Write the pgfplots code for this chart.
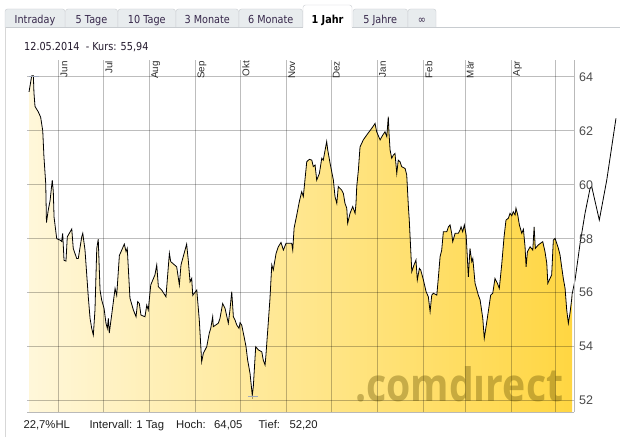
\documentclass[border=0pt]{standalone}
\usepackage{pgfplots}
\pgfplotsset{compat=1.18}
\usepackage{pgfplotstable}
\usepackage{graphicx}
\usepackage{fontspec}
\usetikzlibrary{calc}
\setmainfont{Liberation Sans}
\newfontfamily\tah{DejaVu Sans}[FakeStretch=0.88]
\newfontfamily\wmfont{Open Sans}
\def\tabfont{\tah\fontsize{11}{13}\selectfont}

\definecolor{tabborder}{RGB}{200,204,208}
\definecolor{tabfill}{RGB}{232,236,238}
\definecolor{tabtext}{RGB}{55,40,75}
\definecolor{panelborder}{RGB}{215,215,215}
\definecolor{fillL}{RGB}{255,247,218}
\definecolor{fillR}{RGB}{255,214,66}
\definecolor{tickgray}{RGB}{75,75,75}
\definecolor{wm}{RGB}{100,80,0}
\definecolor{hlmark}{RGB}{160,168,185}

\pgfplotstableread{
d v
0.1 63.44
1.9 64.04
3.0 64.04
3.4 63.4
4.1 62.9
6.3 62.7
7.9 62.5
9.3 62.0
10.1 61.04
11.3 60.05
11.8 58.6
13.0 59.06
14.2 59.4
15.7 60.17
16.4 59.74
16.9 58.8
18.7 58.0
20.9 57.95
22.0 57.9
22.7 58.2
23.6 57.2
24.9 57.17
25.8 58.07
28.8 58.36
29.8 57.64
32.1 57.27
33.2 57.27
35.5 58.07
36.2 58.2
37.7 57.58
39.9 55.85
41.1 55.05
42.2 54.68
43.3 54.43
44.4 55.36
45.6 57.64
46.6 57.98
47.8 56.1
48.9 55.73
50.5 55.42
51.8 54.87
52.7 54.68
53.4 55.05
54.0 54.5
55.6 55.17
57.9 56.16
59.0 55.9
60.8 57.38
62.4 57.58
64.1 57.8
65.3 57.52
66.1 57.64
67.9 55.8
70.2 55.36
72.0 55.11
73.1 55.67
74.2 55.6
75.3 55.17
78.0 55.11
79.2 55.54
80.2 55.36
81.9 56.29
84.7 56.66
85.9 57.03
87.0 56.22
89.2 56.1
92.1 55.85
94.4 57.46
95.3 57.15
99.3 56.96
101.1 56.29
102.2 57.03
106.0 57.8
107.1 57.2
108.3 56.4
109.4 56.53
110.1 55.9
112.8 56.1
114.5 54.99
116.1 53.44
117.2 53.75
119.5 54.0
121.2 54.5
122.2 54.68
123.5 55.11
123.9 54.74
127.3 54.87
128.4 55.05
130.2 55.6
131.8 55.42
134.0 54.87
135.1 55.36
136.3 56.04
137.4 55.11
138.5 54.99
139.7 54.8
141.2 54.68
141.9 54.89
143.0 54.8
144.6 54.37
145.9 54.0
147.0 53.5
148.6 53.01
150.1 52.2
150.8 52.52
152.4 54.0
154.2 53.88
156.5 53.81
157.5 53.5
158.7 53.32
159.3 53.7
160.9 54.93
162.0 55.79
163.2 57.03
164.2 56.84
166.1 57.46
167.6 57.7
169.4 57.86
171.0 57.58
172.8 57.83
176.6 57.83
177.3 57.58
178.2 58.39
180.0 58.88
181.7 59.37
183.3 59.74
184.4 59.56
186.7 60.85
188.4 60.94
190.1 60.91
191.1 60.67
192.3 60.73
193.4 60.17
195.2 60.42
196.8 60.98
197.8 60.91
200.1 61.6
200.8 61.29
202.4 60.79
204.6 60.17
205.7 59.56
206.9 59.31
207.9 59.93
210.2 59.8
211.3 59.68
212.4 59.31
213.6 59.13
214.2 58.57
215.8 58.94
217.6 59.19
219.2 58.94
219.8 59.31
220.3 59.93
221.4 60.54
222.5 61.4
224.7 61.66
227.0 61.84
230.4 62.09
232.6 62.27
233.7 61.96
236.0 61.66
237.8 61.84
239.3 61.96
240.5 61.78
241.5 62.52
242.0 61.9
242.7 61.29
243.8 60.98
244.9 61.1
246.0 61.16
247.2 60.42
248.2 60.91
249.4 60.85
250.5 60.67
252.8 60.6
253.9 60.36
255.0 59.19
255.6 58.69
257.3 56.78
258.8 57.03
260.1 57.21
261.0 56.47
262.4 56.9
263.3 56.84
265.1 56.47
266.9 56.04
268.4 55.85
269.6 55.3
270.7 55.91
271.8 55.98
274.1 55.91
275.1 56.53
276.3 57.33
277.4 57.58
278.5 58.26
280.8 58.26
281.9 58.44
283.0 58.51
284.1 58.2
284.8 57.89
286.4 58.2
288.6 58.2
289.7 58.32
290.4 58.44
291.5 58.26
292.6 58.51
293.8 58.14
294.6 57.33
295.3 56.59
296.4 57.64
297.6 57.15
298.3 57.27
299.8 56.35
302.0 55.91
303.2 55.73
305.0 55.05
306.0 54.31
307.2 54.74
308.7 55.3
310.3 55.91
311.7 55.98
313.2 56.53
314.8 56.35
316.1 56.16
317.7 57.03
319.3 58.07
320.6 58.69
322.2 58.76
323.3 58.94
324.5 58.85
325.5 59.0
326.7 58.88
327.3 59.13
328.5 58.88
329.6 58.51
331.2 58.2
332.3 58.35
333.4 57.7
334.1 56.96
335.0 57.52
336.8 57.7
338.6 57.58
339.5 58.44
340.3 57.64
342.3 57.77
345.3 57.89
346.8 57.52
348.0 57.09
348.7 56.35
350.2 56.53
351.3 56.66
352.4 57.95
353.6 58.01
354.7 57.83
355.8 57.64
356.9 57.4
358.0 56.96
359.1 56.53
360.3 56.16
361.4 55.36
362.5 54.87
363.6 55.24
364.8 55.79
365.0 55.94
}\pricedata

\pgfplotstableread{
d v
365.0 55.94
367.0 56.47
370.4 57.83
373.7 58.94
377.1 59.87
378.2 59.93
383.3 58.69
388.3 60.17
394.5 62.46
}\overflowdata

\begin{document}
\begin{tikzpicture}[x=1pt,y=1pt]
\path[use as bounding box] (0pt,0pt) rectangle (620pt,437pt);
\fill[white] (0pt,0pt) rectangle (620pt,437pt);

% tabs
\foreach \a/\b/\t in {5/65/Intraday, 65.5/117.5/5 Tage, 118/175.5/10 Tage, 176/238.5/3 Monate, 239/302.5/6 Monate, 353/407.5/5 Jahre, 408/436/∞}{
  \filldraw[draw=tabborder, fill=tabfill, rounded corners=2.5pt] (\a,409.7) -- (\a,428) -- (\b,428) -- (\b,409.7);
  \node[anchor=base, inner sep=0pt, font=\tabfont, text=tabtext] at ({(\a+\b)/2},413) {\t};
}
\fill[white, rounded corners=2.5pt] (303,409.2) -- (303,432) -- (352,432) -- (352,409.2) -- cycle;
\draw[tabborder, rounded corners=2.5pt] (303,409.7) -- (303,432) -- (352,432) -- (352,409.7);
\node[anchor=base, inner sep=0pt, font=\tabfont\bfseries, text=black] at (327.5,413) {1 Jahr};
\draw[tabborder] (5,409.7) -- (303,409.7);
\draw[tabborder] (352,409.7) -- (620,409.7);
\draw[panelborder] (5.5,0) -- (5.5,409.7);

\node[anchor=base west, inner sep=0pt, font=\tabfont, text={rgb,255:red,35;green,25;blue,45}] at (24,386.5) {12.05.2014\ \ - Kurs: 55,94};

\begin{axis}[
  at={(27pt,25pt)}, anchor=south west,
  scale only axis, width=547pt, height=352pt,
  xmin=-1.28, xmax=366.3, ymin=51.58, ymax=64.62,
  clip=false,
  axis x line*=bottom, axis y line*=right,
  axis line style={draw=gray!55, line width=0.8pt, -},
  xtick={20,50,81,112,142,173,203,234,265,293,324,354},
  xticklabels={},
  ytick={52,54,56,58,60,62,64},
  major tick length=0pt,
  grid=major,
  major grid style={draw=black, draw opacity=0.26, line width=0.75pt},
  /pgf/number format/assume math mode=true,
  yticklabel style={anchor=west, inner sep=0pt, xshift=5pt, font=\fontsize{12.5}{14}\selectfont, text=tickgray},
  axis on top,
]
\addplot[draw=none, left color=fillL, right color=fillR] table[x=d,y=v] {\pricedata} -- (axis cs:365,51.58) -- (axis cs:0.1,51.58) -- cycle;
\addplot[only marks, mark=-, mark size=5pt, color=hlmark, mark options={line width=0.8pt}] coordinates {(3.6,64.03) (150.4,52.17)};
\addplot[black, line width=0.8pt] table[x=d,y=v] {\pricedata};
\addplot[black, line width=0.8pt] table[x=d,y=v] {\overflowdata};

\tikzset{month/.style={rotate=90, anchor=north east, inner sep=0pt, font=\fontsize{9.8}{11}\selectfont, text={rgb,255:red,45;green,45;blue,45}}}
\node[month] at ($(axis cs:20,64.62)+(1.8pt,-1pt)$) {Jun};
\node[month] at ($(axis cs:50,64.62)+(1.8pt,-1pt)$) {Jul};
\node[month] at ($(axis cs:81,64.62)+(1.8pt,-1pt)$) {Aug};
\node[month] at ($(axis cs:112,64.62)+(1.8pt,-1pt)$) {Sep};
\node[month] at ($(axis cs:142,64.62)+(1.8pt,-1pt)$) {Okt};
\node[month] at ($(axis cs:173,64.62)+(1.8pt,-1pt)$) {Nov};
\node[month] at ($(axis cs:203,64.62)+(1.8pt,-1pt)$) {Dez};
\node[month] at ($(axis cs:234,64.62)+(1.8pt,-1pt)$) {Jan};
\node[month] at ($(axis cs:265,64.62)+(1.8pt,-1pt)$) {Feb};
\node[month] at ($(axis cs:293,64.62)+(1.8pt,-1pt)$) {Mär};
\node[month] at ($(axis cs:324,64.62)+(1.8pt,-1pt)$) {Apr};
\end{axis}

% watermark
\node[anchor=base west, inner sep=0pt, text=wm, opacity=0.36] at (355,35.3) {\resizebox{208pt}{35pt}{\wmfont\bfseries .comdırect}};

% footer
\begin{scope}[every node/.style={anchor=base west, inner sep=0pt, font=\fontsize{11.3}{13}\selectfont, text={rgb,255:red,30;green,30;blue,30}}]
\node at (23.3,8.7) {22,7\%HL};
\node at (89.3,8.7) {Intervall: 1 Tag};
\node at (176,8.7) {Hoch:};
\node at (214,8.7) {64,05};
\node at (258.3,8.7) {Tief:};
\node at (289.3,8.7) {52,20};
\end{scope}
\end{tikzpicture}
\end{document}
